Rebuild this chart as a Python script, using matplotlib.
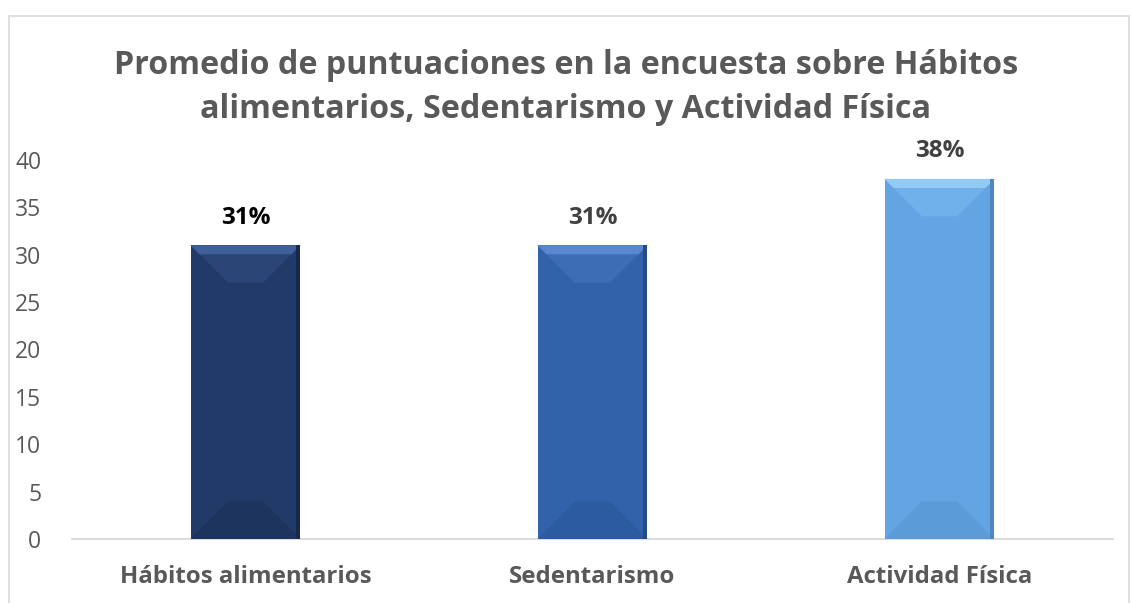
import numpy as np
import matplotlib.pyplot as plt
from matplotlib.patches import Polygon, Rectangle

plt.rcParams['font.family'] = ['Open Sans', 'DejaVu Sans']

categories = ['Hábitos alimentarios', 'Sedentarismo', 'Actividad Física']
values = [31, 31, 38]
labels = ['31%', '31%', '38%']
label_colors = ['#000000', '#404040', '#404040']
# cuerpo, bisel superior, banda clara, bisel inferior, borde derecho
body_colors = ['#213A68', '#3262AA', '#62A5E2']
upper_colors = ['#2A4576', '#3D6DB5', '#6FB2EB']
top_colors = ['#3E5F98', '#5A87CE', '#90CCF6']
bottom_colors = ['#1D345F', '#2D5BA0', '#5A9BD8']
edge_colors = ['#18294C', '#264B85', '#4F88BE']

title = 'Promedio de puntuaciones en la encuesta sobre Hábitos\nalimentarios, Sedentarismo y Actividad Física'
gray = '#595959'

fig = plt.figure(figsize=(11.31, 6.03), dpi=100)
ax = fig.add_axes([72/1131, 1-539/603, (1113-72)/1131, (539-160)/603])

x = np.arange(len(categories))
bw = 0.317
bars = ax.bar(x, values, width=bw, color=body_colors, zorder=2)
ax.set_xlim(-0.5, len(categories)-0.5)
ax.set_ylim(0, 40)
ax.set_yticks(range(0, 41, 5))

# efecto de bisel
tr = ax.transData
px_x = tr.transform((1, 0))[0] - tr.transform((0, 0))[0]
px_y = tr.transform((0, 1))[1] - tr.transform((0, 0))[1]
for i, b in enumerate(bars):
    x0, w, h = b.get_x(), b.get_width(), b.get_height()
    d = 0.34 * w
    dy = d * px_x / px_y
    band = 9 / px_y
    bx = band * px_y / px_x
    ax.add_patch(Polygon([(x0, h), (x0+w, h), (x0+w-d, h-dy), (x0+d, h-dy)],
                         closed=True, color=upper_colors[i], lw=0, zorder=3))
    ax.add_patch(Polygon([(x0, h), (x0+w, h), (x0+w-bx, h-band), (x0+bx, h-band)],
                         closed=True, color=top_colors[i], lw=0, zorder=4))
    ax.add_patch(Polygon([(x0, 0), (x0+w, 0), (x0+w-d, dy), (x0+d, dy)],
                         closed=True, color=bottom_colors[i], lw=0, zorder=3))
    ax.add_patch(Rectangle((x0+w-4/px_x, 0), 4/px_x, h, color=edge_colors[i], lw=0, zorder=5))
    ax.text(x[i], h + 2.9, labels[i], ha='center', va='center', fontsize=17.5,
            fontweight='bold', color=label_colors[i])

ax.set_xticks(x)
ax.set_xticklabels(categories, fontsize=17.3, fontweight='bold', color=gray)
ax.tick_params(axis='x', length=0, pad=19)
ax.tick_params(axis='y', length=0, pad=22, labelsize=16.5, labelcolor=gray)
for s in ['top', 'right', 'left']:
    ax.spines[s].set_visible(False)
ax.spines['bottom'].set_color('#D9D9D9')
ax.spines['bottom'].set_linewidth(1.3)

fig.text(566/1131, 1-118/603, title, ha='center', va='baseline', fontsize=23.2,
         fontweight='bold', color=gray, linespacing=1.45)

fig.patches.append(Rectangle((9/1131, -0.1), (1129-9)/1131, 1.1-16/603,
                             transform=fig.transFigure, fill=False,
                             edgecolor='#D9D9D9', lw=1.2))

fig.savefig('out.png', dpi=100)
